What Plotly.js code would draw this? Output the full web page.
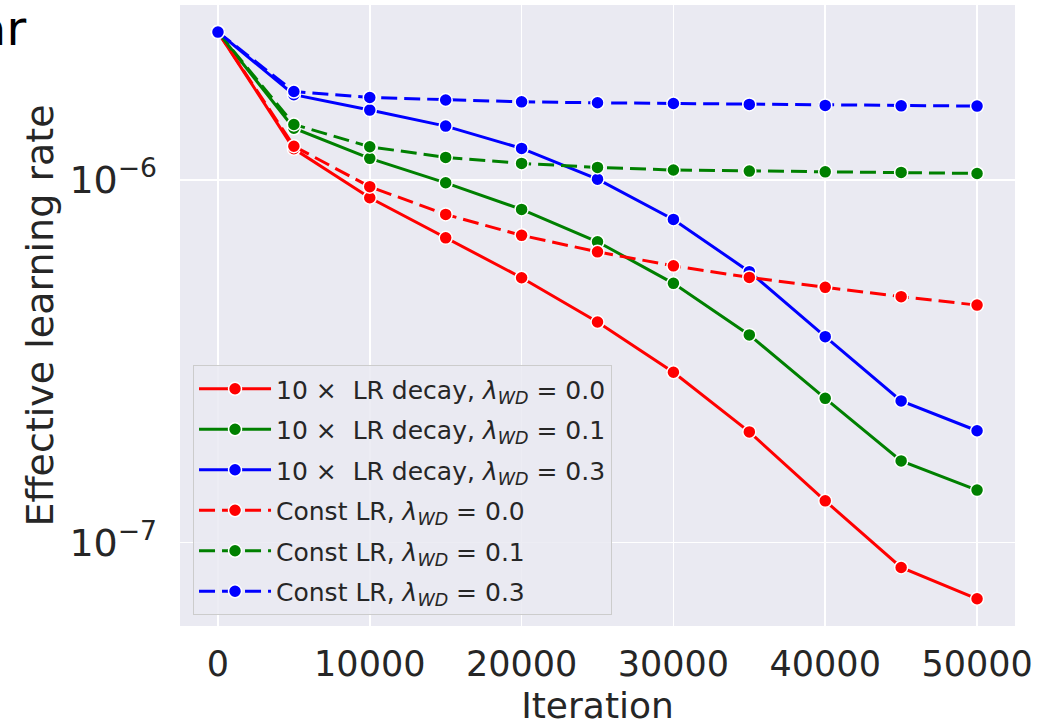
<!DOCTYPE html>
<html>
<head>
<meta charset="utf-8">
<script src="https://cdn.plot.ly/plotly-3.0.1.min.js"></script>
<style>html,body{margin:0;padding:0;background:#fff;}#chart{width:1054px;height:726px;}</style>
</head>
<body>
<div id="chart"></div>
<script>
const iterations = [0, 5000, 10000, 15000, 20000, 25000, 30000, 35000, 40000, 45000, 50000];
const decayWd00 = [2.56e-6, 1.22e-6, 0.894e-6, 0.693e-6, 0.538e-6, 0.406e-6, 0.295e-6, 0.202e-6, 0.1304e-6, 0.0854e-6, 0.0700e-6];
const decayWd01 = [2.56e-6, 1.39e-6, 1.148e-6, 0.983e-6, 0.830e-6, 0.676e-6, 0.519e-6, 0.374e-6, 0.250e-6, 0.168e-6, 0.1396e-6];
const decayWd03 = [2.56e-6, 1.72e-6, 1.56e-6, 1.409e-6, 1.223e-6, 1.006e-6, 0.779e-6, 0.559e-6, 0.370e-6, 0.246e-6, 0.2035e-6];
const constWd00 = [2.56e-6, 1.24e-6, 0.959e-6, 0.804e-6, 0.704e-6, 0.634e-6, 0.580e-6, 0.539e-6, 0.506e-6, 0.477e-6, 0.452e-6];
const constWd01 = [2.56e-6, 1.424e-6, 1.236e-6, 1.155e-6, 1.112e-6, 1.084e-6, 1.066e-6, 1.059e-6, 1.054e-6, 1.050e-6, 1.043e-6];
const constWd03 = [2.56e-6, 1.755e-6, 1.69e-6, 1.663e-6, 1.644e-6, 1.634e-6, 1.627e-6, 1.617e-6, 1.607e-6, 1.603e-6, 1.600e-6];

const seriesNames = [
  '10 \u00d7  LR decay, <i>\u03bb</i><sub><i>WD</i></sub> = 0.0',
  '10 \u00d7  LR decay, <i>\u03bb</i><sub><i>WD</i></sub> = 0.1',
  '10 \u00d7  LR decay, <i>\u03bb</i><sub><i>WD</i></sub> = 0.3',
  'Const LR, <i>\u03bb</i><sub><i>WD</i></sub> = 0.0',
  'Const LR, <i>\u03bb</i><sub><i>WD</i></sub> = 0.1',
  'Const LR, <i>\u03bb</i><sub><i>WD</i></sub> = 0.3'
];
const seriesValues = [decayWd00, decayWd01, decayWd03, constWd00, constWd01, constWd03];
const seriesColors = ['#ff0000', '#008000', '#0000ff', '#ff0000', '#008000', '#0000ff'];
const seriesDash = ['solid', 'solid', 'solid', '16px,7px', '16px,7px', '16px,7px'];

const xTickVals = [0, 10000, 20000, 30000, 40000, 50000];
const xTickText = ['0', '10000', '20000', '30000', '40000', '50000'];
const yTickVals = [1e-7, 1e-6];
const yTickText = ['10<sup>\u22127</sup>', '10<sup>\u22126</sup>'];

const traces = seriesValues.map((vals, i) => ({
  x: iterations,
  y: vals,
  name: seriesNames[i],
  legendgroup: 'g' + i,
  type: 'scatter',
  mode: 'lines+markers',
  line: {color: seriesColors[i], width: 3, dash: seriesDash[i]},
  marker: {color: seriesColors[i], size: 13, line: {color: '#ffffff', width: 1.5}}
}));

const layout = {
  width: 1054, height: 726,
  margin: {l: 180, r: 39, t: 5, b: 100},
  paper_bgcolor: '#ffffff',
  plot_bgcolor: '#EAEAF2',
  font: {family: 'DejaVu Sans', color: '#262626', size: 36},
  showlegend: true,
  xaxis: {
    range: [-2500, 52500],
    tickvals: xTickVals, ticktext: xTickText,
    showgrid: true, gridcolor: '#ffffff', gridwidth: 1.5,
    zeroline: false, showline: false, ticks: '',
    ticklabelstandoff: 14,
    tickfont: {family: 'DejaVu Sans', size: 35, color: '#262626'},
    title: {text: 'Iteration', font: {family: 'DejaVu Sans', size: 36, color: '#262626'}, standoff: 12},
    automargin: false
  },
  yaxis: {
    type: 'log',
    range: [-7.230, -5.517],
    tickvals: yTickVals, ticktext: yTickText,
    showgrid: true, gridcolor: '#ffffff', gridwidth: 1.5,
    zeroline: false, showline: false, ticks: '',
    ticklabelstandoff: 22,
    tickfont: {family: 'DejaVu Sans', size: 38, color: '#262626'},
    title: {text: 'Effective learning rate', font: {family: 'DejaVu Sans', size: 38, color: '#262626'}, standoff: 4},
    automargin: false
  },
  legend: {
    x: 0.0156, y: 0.0177, xanchor: 'left', yanchor: 'bottom',
    bgcolor: 'rgba(234,234,242,0.85)',
    bordercolor: '#cccccc', borderwidth: 1,
    font: {family: 'DejaVu Sans', size: 25, color: '#262626'},
    itemwidth: 72,
    tracegroupgap: 5
  },
  annotations: [{
    text: 'ar', xref: 'paper', yref: 'paper',
    x: (28 - 180) / 835, y: (626 + 2) / 621,
    xanchor: 'right', yanchor: 'top', showarrow: false,
    font: {family: 'DejaVu Sans', size: 48, color: '#000000'}
  }]
};

Plotly.newPlot('chart', traces, layout, {displayModeBar: false, staticPlot: true});
</script>
</body>
</html>
